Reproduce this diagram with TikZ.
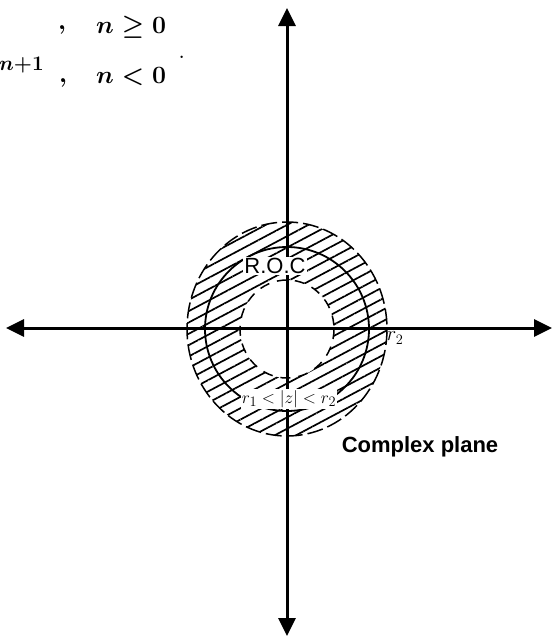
\documentclass[tikz,border=0pt]{standalone}
\usepackage{amsmath,amssymb}
\usepackage{fontspec}
\newfontfamily\labelfont{Liberation Sans}
\usepackage{tikz}
\usetikzlibrary{arrows.meta,patterns.meta}

\begin{document}
\begin{tikzpicture}[x=1pt,y=-1pt,
  axis/.style={line width=3pt,{Triangle[length=18pt,width=17pt]}-{Triangle[length=18pt,width=17pt]}},
  txt/.style={inner sep=0pt,anchor=base west,font=\fontsize{29}{32}\selectfont\boldmath},
  lbl/.style={inner sep=1pt,fill=white}]
  \useasboundingbox (0,0) rectangle (553,638);
  \coordinate (O) at (287,329);
  \coordinate (west) at (6,328);
  \coordinate (east) at (552,328);
  \coordinate (north) at (287,8);
  \coordinate (south) at (287,636);
  % hatched ring r1 < |z| < r2
  \fill[pattern={Lines[angle=28,distance=10pt,line width=1.7pt]},even odd rule]
    (O) ellipse [x radius=100,y radius=107] (O) ellipse [x radius=47,y radius=49];
  \draw[line width=1.5pt,dash pattern=on 16pt off 5pt] (O) ellipse [x radius=100,y radius=107];
  \draw[line width=1.5pt,dash pattern=on 10pt off 8pt] (O) ellipse [x radius=47,y radius=49];
  \draw[line width=1.8pt] (O) ellipse [x radius=82,y radius=82];
  \draw[axis] (west) -- (east);
  \draw[axis] (north) -- (south);
  \node[lbl] (roc) at (275,266) {\labelfont\fontsize{22}{26}\selectfont R.O.C};
  \node[inner sep=0pt] (rtwo) at (395,338) {\fontsize{20}{22}\selectfont $r_2$};
  \node[lbl] (band) at (289,399) {\fontsize{19}{22}\selectfont $r_1<|z|<r_2$};
  \node (plane) at (420,447) {\labelfont\bfseries\fontsize{22}{26}\selectfont Complex plane};
  % cut-off formula at the top
  \node[txt] (comma1) at (58,29) {$,$};
  \node[txt] (cond1) at (96,33) {$n\geq 0$};
  \node[txt] (power) at (-1,70) {$\scriptstyle n+1$};
  \node[txt] (comma2) at (59,82) {$,$};
  \node[txt] (cond2) at (96,83) {$n<0$};
  \node[txt] (stop) at (178,58) {.};
\end{tikzpicture}
\end{document}
